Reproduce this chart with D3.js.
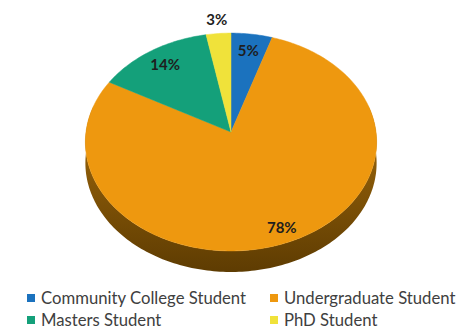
<!DOCTYPE html>
<html>
<head>
<meta charset="utf-8">
<script src="https://d3js.org/d3.v7.min.js"></script>
<style>
  body { margin: 0; background: #fff; }
  svg { display: block; }
</style>
</head>
<body>
<div id="chart"></div>
<script>
// data
const categories = ["Community College Student", "Undergraduate Student", "Masters Student", "PhD Student"];
const values = [5, 78, 14, 3];
const colors = ["#1b72be", "#ee980f", "#14a07a", "#f0e23a"];
const titleText = "Breakdown of Survey Respondents by Student Type";

const width = 462, height = 329;

// 3d-ish projection of the pie disk
const cx = 231, cy = 132, rx = 145, ry = 108, persp = 0.092, depth = 21;

function project(a, r) {
    let u = r * Math.sin(a), v = -r * Math.cos(a);
    let s = 1 / (1 - persp * v);
    return [cx + rx * u * s, cy + ry * v * s];
}

function arcPoints(a0, a1, r) {
    let n = Math.max(2, Math.ceil((a1 - a0) / 0.02));
    return d3.range(n + 1).map(i => project(a0 + (a1 - a0) * i / n, r));
}

const svg = d3.select("#chart").append("svg")
    .attr("width", width)
    .attr("height", height);

// gradient for the side wall
let defs = svg.append("defs");
let sideGrad = defs.append("linearGradient")
    .attr("id", "side")
    .attr("x1", 0).attr("y1", 0).attr("x2", 0).attr("y2", 1);
sideGrad.append("stop").attr("offset", "0%").attr("stop-color", "#a56c0c");
sideGrad.append("stop").attr("offset", "100%").attr("stop-color", "#5e3c02");

// title (cut off at top in the original, only descenders show)
svg.append("text")
    .attr("x", width / 2)
    .attr("y", -3)
    .attr("text-anchor", "middle")
    .style("font-family", "Lato, 'Open Sans', sans-serif")
    .style("font-weight", "bold")
    .style("font-size", "18px")
    .style("fill", "#404040")
    .text(titleText);

const pie = d3.pie().sort(null).value(d => d)(values);
const line = d3.line();

// side wall (front half only)
let front = pie.map(d => ({
    d: d,
    a0: Math.max(d.startAngle, Math.PI * 0.42),
    a1: Math.min(d.endAngle, Math.PI * 1.58)
})).filter(s => s.a1 > s.a0);

svg.append("g").selectAll("path")
    .data(front)
    .enter()
    .append("path")
    .attr("d", s => {
        let top = arcPoints(s.a0, s.a1, 1);
        let bottom = top.map(p => [p[0], p[1] + depth]).reverse();
        return line(top.concat(bottom)) + "Z";
    })
    .style("fill", "url(#side)");

// top face
svg.append("g").selectAll("path")
    .data(pie)
    .enter()
    .append("path")
    .attr("d", d => line([[cx, cy]].concat(arcPoints(d.startAngle, d.endAngle, 1))) + "Z")
    .style("fill", (d, i) => colors[i])
    .style("stroke", (d, i) => colors[i])
    .style("stroke-width", 0.5);

// data labels
function labelPos(d) {
    let r = d.value < 4 ? 1.15 : (d.value > 50 ? 0.88 : 0.82);
    return project((d.startAngle + d.endAngle) / 2, r);
}

svg.append("g").selectAll("text")
    .data(pie)
    .enter()
    .append("text")
    .attr("x", d => labelPos(d)[0])
    .attr("y", d => labelPos(d)[1])
    .attr("dy", "0.35em")
    .attr("text-anchor", "middle")
    .style("font-family", "Lato, 'Open Sans', sans-serif")
    .style("font-weight", "bold")
    .style("font-size", "15px")
    .style("fill", "#1e1e1e")
    .text(d => d.value + "%");

// legend
let legend = svg.append("g").selectAll("g")
    .data(categories)
    .enter()
    .append("g")
    .attr("transform", (d, i) => "translate(" + (i % 2 ? 270 : 27) + "," + (i < 2 ? 298 : 320) + ")");

legend.append("rect")
    .attr("x", 0).attr("y", -4)
    .attr("width", 8).attr("height", 8)
    .style("fill", (d, i) => colors[i]);

legend.append("text")
    .attr("x", 14)
    .attr("dy", "0.35em")
    .style("font-family", "Lato, 'Open Sans', sans-serif")
    .style("font-size", "16.7px")
    .style("fill", "#404040")
    .text(d => d);
</script>
</body>
</html>
